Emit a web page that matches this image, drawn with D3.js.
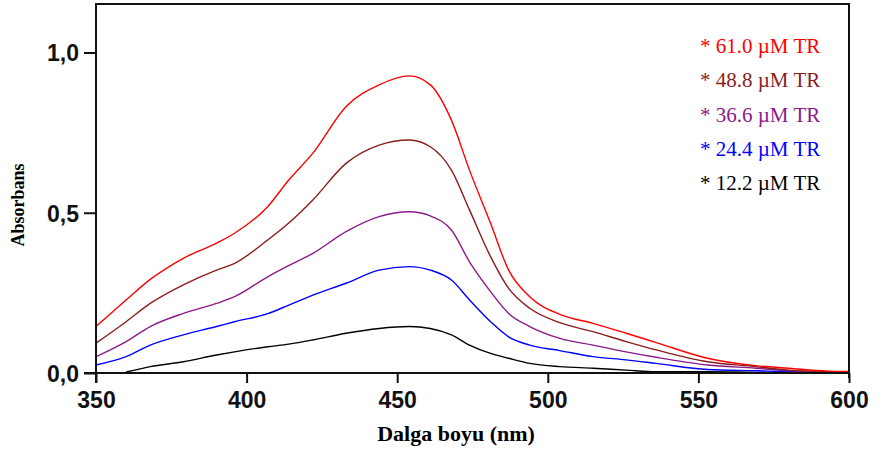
<!DOCTYPE html>
<html lang="tr">
<head>
<meta charset="UTF-8">
<title>Absorbans</title>
<script src="https://d3js.org/d3.v7.min.js"></script>
<style>
  body { margin: 0; background: #fff; }
  svg { display: block; }
</style>
</head>
<body>
<div id="chart"></div>
<script>
// wavelength (nm) and absorbance values
const wavelengths = [350, 360, 368, 379, 390, 396, 407, 414, 422, 433, 444, 454, 461, 468, 474, 481, 487, 494, 504, 515, 526, 536, 553, 569, 580, 593, 600];
const tr610 = [.145, .228, .292, .358, .405, .436, .519, .602, .686, .831, .899, .927, .899, .789, .633, .467, .321, .238, .183, .155, .124, .095, .046, .023, .015, .006, .005];
const tr488 = [.093, .160, .217, .275, .321, .342, .415, .468, .540, .654, .711, .727, .706, .633, .509, .363, .264, .202, .157, .129, .098, .072, .035, .020, .009, .004, .003];
const tr366 = [.051, .098, .145, .186, .217, .238, .300, .335, .373, .441, .488, .503, .490, .446, .347, .254, .186, .145, .108, .087, .066, .049, .025, .015, .007, .003, .002];
const tr244 = [.025, .051, .087, .119, .145, .160, .185, .212, .243, .280, .321, .332, .321, .290, .228, .160, .113, .087, .070, .051, .041, .030, .011, .007, .004, .002, .002];
const tr122 = [null, .003, .020, .035, .056, .066, .082, .090, .103, .124, .139, .145, .139, .119, .087, .061, .046, .030, .020, .015, .009, .004, .004, .002, .001, .001, .001];

const labels = ["* 61.0 µM TR", "* 48.8 µM TR", "* 36.6 µM TR", "* 24.4 µM TR", "* 12.2 µM TR"];
const colors = ["#ff0000", "#8b1c1c", "#8b1a8b", "#0000ff", "#000000"];
const xTicks = [350, 400, 450, 500, 550, 600];
const yTicks = [0, 0.5, 1.0];

const series = [tr610, tr488, tr366, tr244, tr122];

const width = 877, height = 453;
const mLeft = 96, mRight = 849, mTop = 4, mBottom = 373;

const svg = d3.select("#chart").append("svg")
    .attr("width", width)
    .attr("height", height);

const x = d3.scaleLinear().domain([350, 600]).range([mLeft, mRight]);
const y = d3.scaleLinear().domain([0, 1]).range([mBottom, 52.5]);

const commaFmt = d3.formatLocale({ decimal: ",", thousands: ".", grouping: [3], currency: ["", ""] }).format(".1f");

svg.append("clipPath").attr("id", "plot")
    .append("rect")
    .attr("x", mLeft).attr("y", mTop)
    .attr("width", mRight - mLeft).attr("height", mBottom - mTop);

// curves
const line = d3.line()
    .defined(d => d[1] !== null)
    .curve(d3.curveMonotoneX)
    .x(d => x(d[0]))
    .y(d => y(d[1]));

svg.append("g").attr("clip-path", "url(#plot)")
    .selectAll("path")
    .data(series.slice().reverse())
    .enter()
    .append("path")
    .attr("d", s => line(wavelengths.map((w, i) => [w, s[i]])))
    .attr("fill", "none")
    .attr("stroke", (s, i) => colors[colors.length - 1 - i])
    .attr("stroke-width", 1.4);

// axes
const yAxis = d3.axisLeft(y).tickValues(yTicks).tickSize(12).tickPadding(5).tickFormat(commaFmt);
const xAxis = d3.axisBottom(x).tickValues(xTicks).tickSize(10).tickPadding(8).tickFormat(d3.format("d"));

const gy = svg.append("g").attr("transform", `translate(${mLeft},0)`).call(yAxis);
const gx = svg.append("g").attr("transform", `translate(0,${mBottom})`).call(xAxis);

[gy, gx].forEach(g => {
    g.select(".domain").remove();
    g.selectAll("line").attr("stroke", "#111").attr("stroke-width", 2);
    g.selectAll("text")
        .attr("fill", "#111")
        .style("font-family", "'Liberation Sans', Arial, sans-serif")
        .style("font-weight", "bold")
        .style("font-size", "23px");
});
gy.selectAll("text").attr("dy", "0.36em");
gx.selectAll("text").attr("dy", "0.72em");

// frame
const frame = svg.append("g").attr("stroke", "#111").attr("stroke-width", 2).attr("fill", "none");
frame.append("line").attr("x1", mLeft).attr("x2", mLeft).attr("y1", mTop - 1).attr("y2", mBottom + 10);
frame.append("line").attr("x1", mLeft).attr("x2", mRight).attr("y1", mTop).attr("y2", mTop);
frame.append("line").attr("x1", mRight).attr("x2", mRight).attr("y1", mTop - 1).attr("y2", mBottom + 5);
frame.append("line").attr("x1", mLeft - 12).attr("x2", mRight).attr("y1", mBottom).attr("y2", mBottom);

// axis titles
svg.append("text")
    .attr("x", 456).attr("y", 441)
    .attr("text-anchor", "middle")
    .style("font-family", "'Liberation Serif', 'Times New Roman', serif")
    .style("font-weight", "bold")
    .style("font-size", "22px")
    .text("Dalga boyu (nm)");

svg.append("text")
    .attr("transform", "translate(24,205) rotate(-90)")
    .attr("text-anchor", "middle")
    .style("font-family", "'Liberation Serif', 'Times New Roman', serif")
    .style("font-weight", "bold")
    .style("font-size", "18px")
    .text("Absorbans");

// legend
svg.append("g").selectAll("text")
    .data(labels)
    .enter()
    .append("text")
    .attr("x", 700)
    .attr("y", (d, i) => 53 + i * 34.3)
    .attr("fill", (d, i) => colors[i])
    .style("font-family", "'Liberation Serif', 'Times New Roman', serif")
    .style("font-size", "21px")
    .text(d => d);
</script>
</body>
</html>
